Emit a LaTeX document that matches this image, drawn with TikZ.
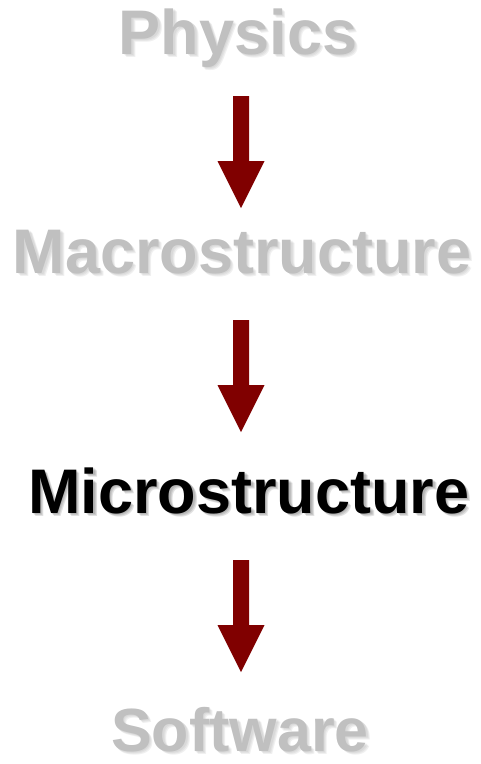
\documentclass[tikz,border=0pt]{standalone}
\usepackage{fontspec}
\setmainfont{Liberation Sans}
\usetikzlibrary{calc}
\definecolor{greytext}{RGB}{192,192,192}
\definecolor{greyshadow}{RGB}{170,170,170}
\definecolor{darkshadow}{RGB}{90,90,90}
\definecolor{arrowred}{RGB}{128,0,0}
\tikzset{
  steptext/.style={font=\fontsize{63}{63}\selectfont\bfseries, inner sep=0pt, anchor=base},
  smallstep/.style={steptext, font=\fontsize{61}{61}\selectfont\bfseries},
  softshadow/.style={opacity=0.18},
  blockarrow/.style={fill=arrowred, draw=none}
}
\newcommand{\shadowed}[4]{% style, position, text, shadow colour
  \foreach \d in {1.5,2.5,3.5}{
    \node[#1, softshadow, text=#4] at ($#2+(\d pt,-\d pt)$) {#3};
  }
}
\begin{document}
\begin{tikzpicture}[x=1pt,y=1pt]
\useasboundingbox (0,0) rectangle (481,-764);
\coordinate (ax) at (241,0);
% shadows
\shadowed{steptext}{(238,-54)}{Physics}{greyshadow}
\shadowed{steptext}{(242,-273)}{Macrostructure}{greyshadow}
\shadowed{steptext}{(249,-513)}{Microstructure}{darkshadow}
\shadowed{smallstep}{(240,-751)}{Software}{greyshadow}
% texts
\node[steptext, text=greytext] (phys) at (238,-54) {Physics};
\node[steptext, text=greytext] (macro) at (242,-273) {Macrostructure};
\node[steptext, text=black] (micro) at (249,-513) {Microstructure};
\node[smallstep, text=greytext] (soft) at (240,-751) {Software};
% arrow end points tied to the nodes
\coordinate (s1) at ($(phys.base -| ax)+(0,-42)$);
\coordinate (e1) at ($(macro.base -| ax)+(0,65)$);
\coordinate (s2) at ($(macro.base -| ax)+(0,-47)$);
\coordinate (e2) at ($(micro.base -| ax)+(0,81)$);
\coordinate (s3) at ($(micro.base -| ax)+(0,-47)$);
\coordinate (e3) at ($(soft.base -| ax)+(0,79)$);
\foreach \s/\e in {s1/e1,s2/e2,s3/e3}{
  \fill[blockarrow] ($(\s)+(-8,0)$) -- ($(\s)+(8,0)$) -- ($(\e)+(8,47)$)
    -- ($(\e)+(23.5,47)$) -- (\e) -- ($(\e)+(-23.5,47)$) -- ($(\e)+(-8,47)$) -- cycle;
}
\end{tikzpicture}
\end{document}
